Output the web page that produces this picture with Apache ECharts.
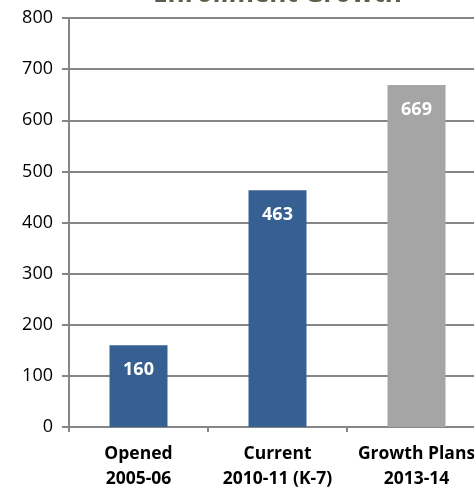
<!DOCTYPE html>
<html><head><meta charset="utf-8">
<script src="https://cdn.jsdelivr.net/npm/echarts@6/dist/echarts.min.js"></script>
<style>html,body{margin:0;padding:0;background:#fff}#c{width:474px;height:488px}</style>
</head><body><div id="c"></div>
<script>
const categories = ['Opened\n2005-06', 'Current\n2010-11 (K-7)', 'Growth Plans\n2013-14'];
const enrollment = [160, 463, 669];
const barColors = ['#366092', '#366092', '#A5A5A5'];
const yTicks = { min: 0, max: 800, interval: 100 };

const chart = echarts.init(document.getElementById('c'));
chart.setOption({
  animation: false,
  title: {
    text: 'Enrollment Growth',
    left: 148, top: -23,
    textStyle: { fontFamily: 'Open Sans', fontWeight: 'bold', fontSize: 26, color: '#5d5e4c' }
  },
  grid: { left: 69, top: 18, height: 409, width: 417, containLabel: false, outerBoundsMode: 'none' },
  xAxis: {
    type: 'category',
    data: categories,
    axisLine: { lineStyle: { color: '#868686', width: 2 } },
    axisTick: { show: true, length: 5, lineStyle: { color: '#868686', width: 2 } },
    axisLabel: { color: '#000', fontFamily: 'Open Sans', fontWeight: 'bold', fontSize: 17.5, lineHeight: 25, margin: 15, interval: 0 }
  },
  yAxis: {
    type: 'value',
    min: yTicks.min, max: yTicks.max, interval: yTicks.interval,
    axisLine: { show: true, lineStyle: { color: '#868686', width: 2 } },
    axisTick: { show: true, length: 7, lineStyle: { color: '#868686', width: 2 } },
    splitLine: { lineStyle: { color: '#868686', width: 2 } },
    axisLabel: { color: '#000', fontFamily: 'Open Sans', fontSize: 18, margin: 16 }
  },
  series: [{
    type: 'bar',
    barWidth: 58,
    data: enrollment.map((v, i) => ({ value: v, itemStyle: { color: barColors[i] } })),
    label: {
      show: true, position: 'insideTop', distance: 16,
      color: '#fff', fontFamily: 'Open Sans', fontWeight: 'bold', fontSize: 18
    }
  }]
});
</script></body></html>
